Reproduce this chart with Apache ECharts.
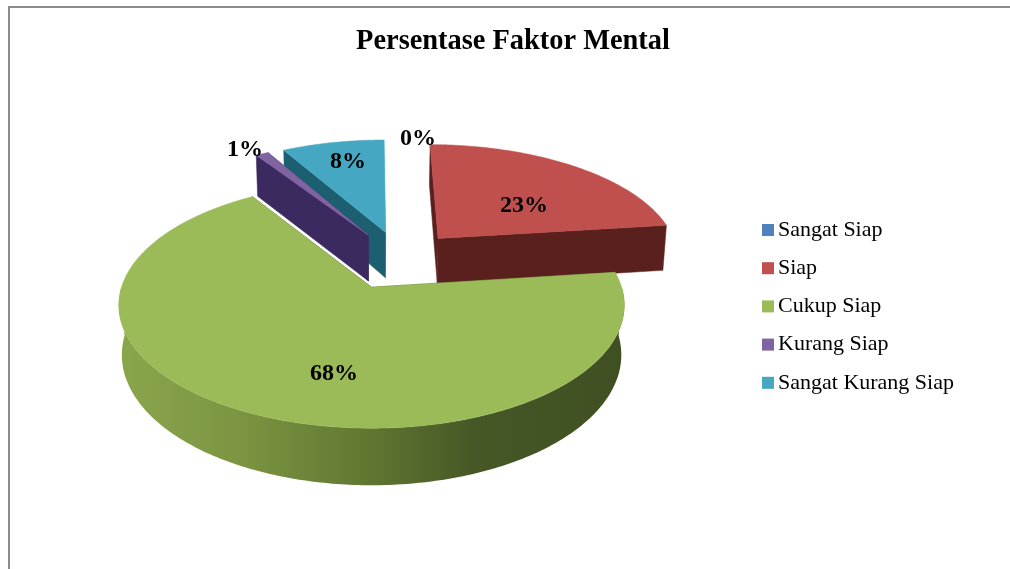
<!DOCTYPE html>
<html><head><meta charset="utf-8">
<style>html,body{margin:0;padding:0;background:#fff}#c{width:1010px;height:569px}</style>
<script src="https://cdn.jsdelivr.net/npm/echarts@6/dist/echarts.min.js"></script>
</head><body><div id="c"></div>
<script>
// ---- data ----
const chartTitle = 'Persentase Faktor Mental';
const categories = ['Sangat Siap', 'Siap', 'Cukup Siap', 'Kurang Siap', 'Sangat Kurang Siap'];
const percentValues = [0, 23, 68, 1, 8];

// ---- style ----
const topColors  = ['#4f81bd', '#c0504d', '#9bbb59', '#8064a2', '#46a7c2'];
const cutColors  = ['#2c4d75', '#5a201e', '#4f6228', '#3b2a60', '#1c5f70'];
const endColors  = ['#2c4d75', '#5a201e', '#4f6228', '#3b2a60', '#7fd0e4'];
const drawOrder  = [0, 1, 4, 3, 2];
const labelAt = [[418, 139], [524, 206], [334, 374], [245, 150], [348, 162]];
const sliceNudge = [0, 0, 0, 0.008, 0.014];

// ---- projected-pie model ----
const view = { ox: 372, oy: 287, rx: 250, ry: 120.4, persp: 0.146, depth: 48.7, shrink: 0.012, explode: 0.26, pu: 0.109, pv: 0.234 };
const total = percentValues.reduce((a, b) => a + b, 0);

function project(u, v, h) {
  const s = 1 / (1 + view.persp * v);
  return [view.ox + view.rx * u * s * (1 - view.shrink * h), view.oy - view.ry * v * s + view.depth * h * s];
}
function sliceGeometry(i) {
  let before = 0;
  for (let k = 0; k < i; k++) before += percentValues[k];
  const a0 = before / total * 2 * Math.PI;
  const a1 = (before + percentValues[i]) / total * 2 * Math.PI;
  const mid = (a0 + a1) / 2;
  return {
    a0, a1,
    cu: view.pu + view.explode * Math.sin(mid) + sliceNudge[i],
    cv: view.pv + view.explode * Math.cos(mid)
  };
}
function arc(g, h, from, to) {
  const n = Math.max(2, Math.ceil(Math.abs(to - from) / 0.015));
  const pts = [];
  for (let k = 0; k <= n; k++) {
    const t = from + (to - from) * k / n;
    pts.push(project(g.cu + Math.sin(t), g.cv + Math.cos(t), h));
  }
  return pts;
}
function poly(points, fill, stroke) {
  return { type: 'polygon', shape: { points }, style: { fill, stroke: stroke || fill, lineWidth: 0.5 } };
}
const greenWall = new echarts.graphic.LinearGradient(0, 0, 1, 0, [
  { offset: 0, color: '#8aa64c' },
  { offset: 0.25, color: '#7a9441' },
  { offset: 0.5, color: '#5f7631' },
  { offset: 0.7, color: '#465826' },
  { offset: 1, color: '#3f4f22' }
]);

function renderSlice(i) {
  const children = [];
  const value = percentValues[i];
  if (value > 0) {
    const g = sliceGeometry(i);
    const tipT = project(g.cu, g.cv, 0), tipB = project(g.cu, g.cv, 1);
    const p = t => [project(g.cu + Math.sin(t), g.cv + Math.cos(t), 0),
                    project(g.cu + Math.sin(t), g.cv + Math.cos(t), 1)];
    const s0 = p(g.a0), s1 = p(g.a1);
    // end cut face (right side of the wedge), then the start cut face
    children.push(poly([tipT, s1[0], s1[1], tipB], endColors[i]));
    children.push(poly([tipT, s0[0], s0[1], tipB], cutColors[i]));
    // outer wall, only the part that faces the viewer
    const wallFrom = Math.max(g.a0, Math.PI / 2), wallTo = Math.min(g.a1, Math.PI * 3 / 2);
    if (wallTo > wallFrom) {
      const top = arc(g, 0, wallFrom, wallTo), bot = arc(g, 1, wallFrom, wallTo).reverse();
      children.push(poly(top.concat(bot), i === 2 ? greenWall : cutColors[i], 'rgba(0,0,0,0)'));
    }
    // top face
    children.push(poly([tipT].concat(arc(g, 0, g.a0, g.a1)), topColors[i]));
  }
  return children;
}

const series = drawOrder.map((i, order) => ({
  type: 'custom',
  name: categories[i],
  coordinateSystem: 'none',
  z: 2 + order,
  itemStyle: { color: topColors[i] },
  data: [percentValues[i]],
  silent: true,
  renderItem: () => ({ type: 'group', children: renderSlice(i) })
}));
// data labels go above every slice
series.push({
  type: 'custom',
  coordinateSystem: 'none',
  z: 20,
  silent: true,
  data: percentValues,
  renderItem: (params, api) => ({
    type: 'text',
    x: labelAt[params.dataIndex][0],
    y: labelAt[params.dataIndex][1],
    style: {
      text: api.value(0) + '%',
      fill: '#000',
      font: 'bold 24px "Liberation Serif"',
      align: 'center',
      verticalAlign: 'middle'
    }
  })
});

const chart = echarts.init(document.getElementById('c'), null, { renderer: 'canvas' });
chart.setOption({
  animation: false,
  backgroundColor: '#fff',
  title: {
    text: chartTitle,
    left: 508, top: 23, textAlign: 'center',
    textStyle: { fontFamily: 'Liberation Serif', fontWeight: 'bold', fontSize: 28.4, color: '#000' }
  },
  legend: {
    data: categories,
    orient: 'vertical',
    left: 762, top: 219,
    padding: 0,
    itemWidth: 12, itemHeight: 12, itemGap: 16.2,
    icon: 'rect',
    textStyle: { fontFamily: 'Liberation Serif', fontSize: 22, color: '#000', padding: [0, 0, 0, -1] }
  },
  graphic: [{
    type: 'rect', z: -1, silent: true,
    shape: { x: 9, y: 7, width: 1030, height: 590 },
    style: { fill: '#fff', stroke: '#8c8c8c', lineWidth: 2 }
  }],
  series
});
</script></body></html>
